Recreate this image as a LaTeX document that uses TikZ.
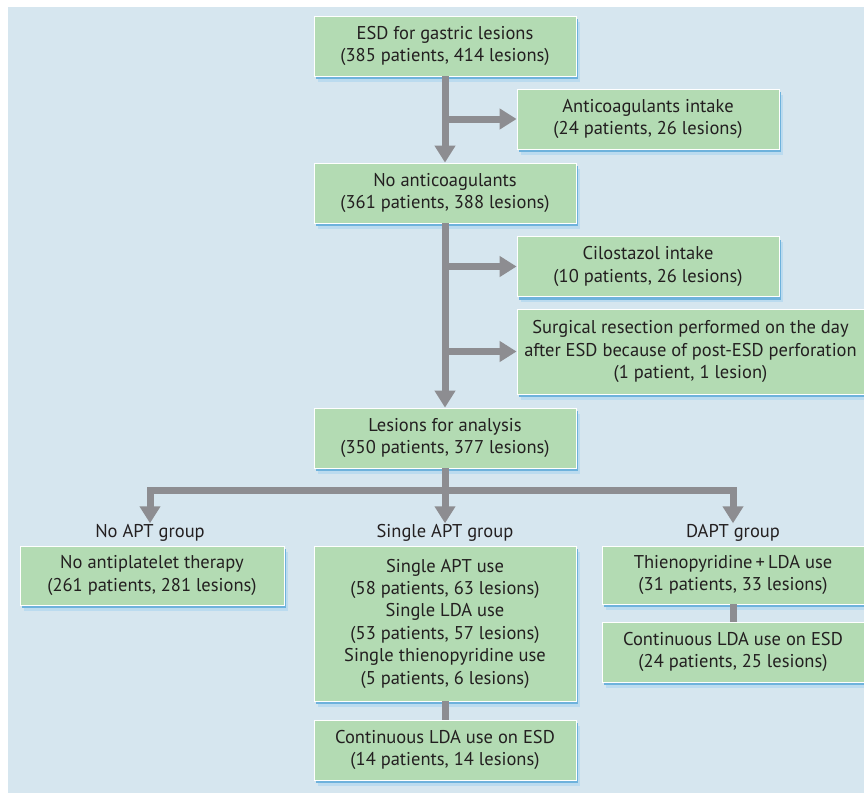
\documentclass[tikz,border=0pt]{standalone}
\usepackage{fontspec}
\setmainfont{PT Sans}
\usepackage{tikz}
\usetikzlibrary{arrows.meta, positioning, calc, shadows}
\definecolor{panelblue}  {RGB}{214,230,239}
\definecolor{boxgreen}   {RGB}{179,219,179}
\definecolor{flowgray}   {RGB}{141,141,145}
\definecolor{shadowblue} {RGB}{84,164,214}
\definecolor{textdark}   {RGB}{35,31,32}

\begin{document}
\begin{tikzpicture}[x=1pt, y=1pt,
	box/.style={draw=white, line width=0.8pt, fill=boxgreen, text=textdark, align=center,
		inner sep=0pt, minimum width=262pt, minimum height=60pt,
		font=\fontsize{18.5}{22.4}\selectfont,
		general shadow={fill=shadowblue!40, shadow xshift=3.5pt, shadow yshift=-5.5pt},
		general shadow={fill=shadowblue!85, shadow xshift=2pt, shadow yshift=-3pt}},
	grouplbl/.style={text=textdark, font=\fontsize{18.5}{20}\selectfont, inner sep=1pt},
	pipe/.style={draw=flowgray, line width=7pt},
	flow/.style={pipe, -{Triangle[width=20pt, length=17pt]}}]
	\useasboundingbox (0,0) rectangle (864,-793);
	\fill[panelblue] (8,-7) rectangle (864,-793);
	% exclusion steps
	\node[box] (esd) at (445,-46) {ESD for gastric lesions\\(385 patients, 414 lesions)};
	\node[box] (anticoag) at (648,-119) {Anticoagulants intake\\(24 patients, 26 lesions)};
	\node[box] (noanticoag) at (445,-193) {No anticoagulants\\(361 patients, 388 lesions)};
	\node[box] (cilostazol) at (648,-266.5) {Cilostazol intake\\(10 patients, 26 lesions)};
	\node[box, minimum width=347pt, minimum height=85pt] (surgical) at (690.5,-351.5)
		{Surgical resection performed on the day\\after ESD because of post-ESD perforation\\(1 patient, 1 lesion)};
	\node[box] (analysis) at (445,-438) {Lesions for analysis\\(350 patients, 377 lesions)};
	% groups
	\node[grouplbl] (noaptlbl) at (150,-533) {No APT group};
	\node[grouplbl] (singlelbl) at (445,-533) {Single APT group};
	\node[grouplbl] (daptlbl) at (733,-533) {DAPT group};
	\node[box, minimum width=264pt, minimum height=59pt] (noapt) at (152,-575.5)
		{No antiplatelet therapy\\(261 patients, 281 lesions)};
	\node[box, minimum height=155pt] (single) at (445,-623.5)
		{Single APT use\\(58 patients, 63 lesions)\\Single LDA use\\(53 patients, 57 lesions)\\Single thienopyridine use\\(5 patients, 6 lesions)};
	\node[box, minimum height=58pt] (dapt) at (733,-575) {Thienopyridine\,+\,LDA use\\(31 patients, 33 lesions)};
	\node[box] (singlecont) at (445,-750) {Continuous LDA use on ESD\\(14 patients, 14 lesions)};
	\node[box] (daptcont) at (733,-652) {Continuous LDA use on ESD\\(24 patients, 25 lesions)};
	% connectors
	\draw[flow] (esd) -- (noanticoag);
	\draw[flow] (esd.south |- anticoag.west) -- (anticoag.west);
	\draw[flow] (noanticoag) -- (analysis);
	\draw[flow] (noanticoag.south |- cilostazol.west) -- (cilostazol.west);
	\draw[flow] (noanticoag.south |- surgical.west) -- (surgical.west);
	\coordinate (bar) at ($(analysis.south)+(0,-22)$);
	\draw[pipe] (analysis) -- (bar);
	\draw[flow] (bar) -| (noaptlbl);
	\draw[flow] (bar) -- (singlelbl);
	\draw[flow] (bar) -| (daptlbl);
	\draw[pipe] (single) -- (singlecont);
	\draw[pipe] (dapt) -- (daptcont);
\end{tikzpicture}
\end{document}
